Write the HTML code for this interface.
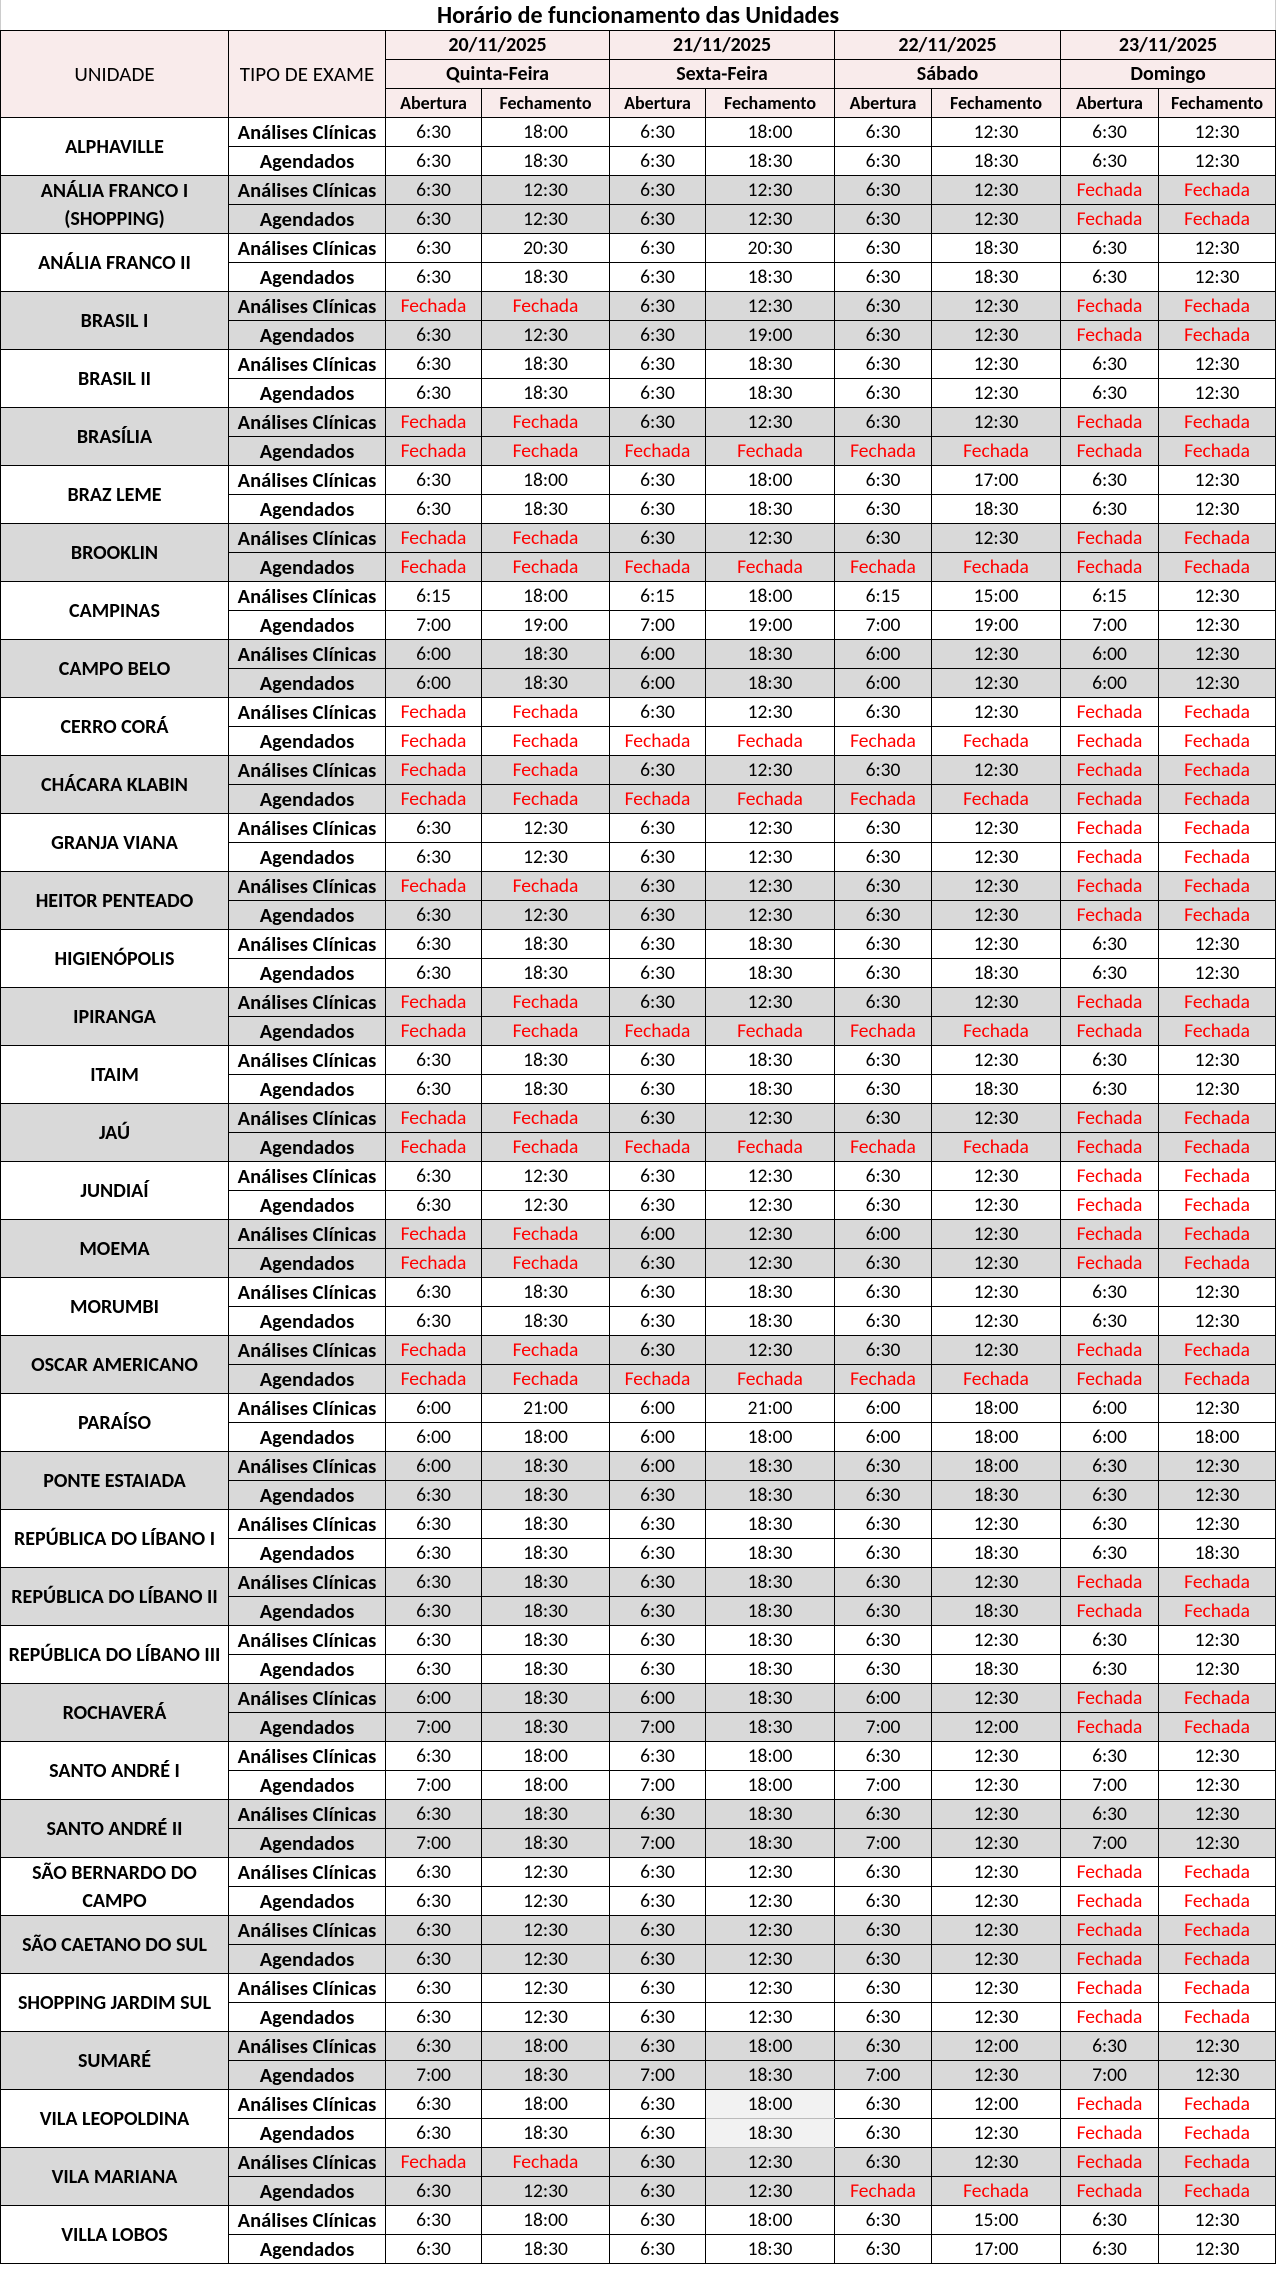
<!DOCTYPE html>
<html><head><meta charset="utf-8"><style>
html,body{margin:0;padding:0;background:#fff;}
body{width:1276px;height:2276px;overflow:hidden;font-family:"Calibri","Carlito","Liberation Sans",sans-serif;}
table{position:absolute;left:0;top:0;border-collapse:collapse;table-layout:fixed;width:1275px;}
td{border:1.5px solid #000;padding:0;height:28px;text-align:center;vertical-align:middle;font-size:19.5px;color:#000;white-space:nowrap;overflow:hidden;}
tr.t td{height:30px;font-size:24px;font-weight:bold;border-top:none;border-left:1px solid #ccc;border-right:1px solid #ccc;}
.h td{background:#f9ebeb;}
.h .b{font-weight:bold;font-size:20px;}
.h .s{font-weight:bold;font-size:18px;}
.h .n{font-size:21px;}
.u{font-weight:bold;font-size:20px;white-space:normal;line-height:28px;}
.k{font-weight:bold;font-size:20.5px;}
.g td{background:#d9d9d9;}
.r{color:#ff0000;}
.l{background:#f2f2f2 !important;border-top-color:#bbb;border-bottom-color:#bbb;}
</style></head><body>
<table>
<colgroup><col style="width:228px"><col style="width:157px"><col style="width:96px"><col style="width:128px"><col style="width:96px"><col style="width:129px"><col style="width:97px"><col style="width:129px"><col style="width:98px"><col style="width:117px"></colgroup>
<tr class="t"><td colspan="10">Horário de funcionamento das Unidades</td></tr>
<tr class="h"><td rowspan="3" class="n">UNIDADE</td><td rowspan="3" class="n">TIPO DE EXAME</td><td colspan="2" class="b">20/11/2025</td><td colspan="2" class="b">21/11/2025</td><td colspan="2" class="b">22/11/2025</td><td colspan="2" class="b">23/11/2025</td></tr>
<tr class="h"><td colspan="2" class="b">Quinta-Feira</td><td colspan="2" class="b">Sexta-Feira</td><td colspan="2" class="b">Sábado</td><td colspan="2" class="b">Domingo</td></tr>
<tr class="h"><td class="s">Abertura</td><td class="s">Fechamento</td><td class="s">Abertura</td><td class="s">Fechamento</td><td class="s">Abertura</td><td class="s">Fechamento</td><td class="s">Abertura</td><td class="s">Fechamento</td></tr>
<tbody id="b"></tbody>
</table>
<script>
var F='F';
var D=[
["ALPHAVILLE",["6:30","18:00","6:30","18:00","6:30","12:30","6:30","12:30"],["6:30","18:30","6:30","18:30","6:30","18:30","6:30","12:30"]],
["ANÁLIA FRANCO I<br>(SHOPPING)",["6:30","12:30","6:30","12:30","6:30","12:30",F,F],["6:30","12:30","6:30","12:30","6:30","12:30",F,F]],
["ANÁLIA FRANCO II",["6:30","20:30","6:30","20:30","6:30","18:30","6:30","12:30"],["6:30","18:30","6:30","18:30","6:30","18:30","6:30","12:30"]],
["BRASIL I",[F,F,"6:30","12:30","6:30","12:30",F,F],["6:30","12:30","6:30","19:00","6:30","12:30",F,F]],
["BRASIL II",["6:30","18:30","6:30","18:30","6:30","12:30","6:30","12:30"],["6:30","18:30","6:30","18:30","6:30","12:30","6:30","12:30"]],
["BRASÍLIA",[F,F,"6:30","12:30","6:30","12:30",F,F],[F,F,F,F,F,F,F,F]],
["BRAZ LEME",["6:30","18:00","6:30","18:00","6:30","17:00","6:30","12:30"],["6:30","18:30","6:30","18:30","6:30","18:30","6:30","12:30"]],
["BROOKLIN",[F,F,"6:30","12:30","6:30","12:30",F,F],[F,F,F,F,F,F,F,F]],
["CAMPINAS",["6:15","18:00","6:15","18:00","6:15","15:00","6:15","12:30"],["7:00","19:00","7:00","19:00","7:00","19:00","7:00","12:30"]],
["CAMPO BELO",["6:00","18:30","6:00","18:30","6:00","12:30","6:00","12:30"],["6:00","18:30","6:00","18:30","6:00","12:30","6:00","12:30"]],
["CERRO CORÁ",[F,F,"6:30","12:30","6:30","12:30",F,F],[F,F,F,F,F,F,F,F]],
["CHÁCARA KLABIN",[F,F,"6:30","12:30","6:30","12:30",F,F],[F,F,F,F,F,F,F,F]],
["GRANJA VIANA",["6:30","12:30","6:30","12:30","6:30","12:30",F,F],["6:30","12:30","6:30","12:30","6:30","12:30",F,F]],
["HEITOR PENTEADO",[F,F,"6:30","12:30","6:30","12:30",F,F],["6:30","12:30","6:30","12:30","6:30","12:30",F,F]],
["HIGIENÓPOLIS",["6:30","18:30","6:30","18:30","6:30","12:30","6:30","12:30"],["6:30","18:30","6:30","18:30","6:30","18:30","6:30","12:30"]],
["IPIRANGA",[F,F,"6:30","12:30","6:30","12:30",F,F],[F,F,F,F,F,F,F,F]],
["ITAIM",["6:30","18:30","6:30","18:30","6:30","12:30","6:30","12:30"],["6:30","18:30","6:30","18:30","6:30","18:30","6:30","12:30"]],
["JAÚ",[F,F,"6:30","12:30","6:30","12:30",F,F],[F,F,F,F,F,F,F,F]],
["JUNDIAÍ",["6:30","12:30","6:30","12:30","6:30","12:30",F,F],["6:30","12:30","6:30","12:30","6:30","12:30",F,F]],
["MOEMA",[F,F,"6:00","12:30","6:00","12:30",F,F],[F,F,"6:30","12:30","6:30","12:30",F,F]],
["MORUMBI",["6:30","18:30","6:30","18:30","6:30","12:30","6:30","12:30"],["6:30","18:30","6:30","18:30","6:30","12:30","6:30","12:30"]],
["OSCAR AMERICANO",[F,F,"6:30","12:30","6:30","12:30",F,F],[F,F,F,F,F,F,F,F]],
["PARAÍSO",["6:00","21:00","6:00","21:00","6:00","18:00","6:00","12:30"],["6:00","18:00","6:00","18:00","6:00","18:00","6:00","18:00"]],
["PONTE ESTAIADA",["6:00","18:30","6:00","18:30","6:30","18:00","6:30","12:30"],["6:30","18:30","6:30","18:30","6:30","18:30","6:30","12:30"]],
["REPÚBLICA DO LÍBANO I",["6:30","18:30","6:30","18:30","6:30","12:30","6:30","12:30"],["6:30","18:30","6:30","18:30","6:30","18:30","6:30","18:30"]],
["REPÚBLICA DO LÍBANO II",["6:30","18:30","6:30","18:30","6:30","12:30",F,F],["6:30","18:30","6:30","18:30","6:30","18:30",F,F]],
["REPÚBLICA DO LÍBANO III",["6:30","18:30","6:30","18:30","6:30","12:30","6:30","12:30"],["6:30","18:30","6:30","18:30","6:30","18:30","6:30","12:30"]],
["ROCHAVERÁ",["6:00","18:30","6:00","18:30","6:00","12:30",F,F],["7:00","18:30","7:00","18:30","7:00","12:00",F,F]],
["SANTO ANDRÉ I",["6:30","18:00","6:30","18:00","6:30","12:30","6:30","12:30"],["7:00","18:00","7:00","18:00","7:00","12:30","7:00","12:30"]],
["SANTO ANDRÉ II",["6:30","18:30","6:30","18:30","6:30","12:30","6:30","12:30"],["7:00","18:30","7:00","18:30","7:00","12:30","7:00","12:30"]],
["SÃO BERNARDO DO<br>CAMPO",["6:30","12:30","6:30","12:30","6:30","12:30",F,F],["6:30","12:30","6:30","12:30","6:30","12:30",F,F]],
["SÃO CAETANO DO SUL",["6:30","12:30","6:30","12:30","6:30","12:30",F,F],["6:30","12:30","6:30","12:30","6:30","12:30",F,F]],
["SHOPPING JARDIM SUL",["6:30","12:30","6:30","12:30","6:30","12:30",F,F],["6:30","12:30","6:30","12:30","6:30","12:30",F,F]],
["SUMARÉ",["6:30","18:00","6:30","18:00","6:30","12:00","6:30","12:30"],["7:00","18:30","7:00","18:30","7:00","12:30","7:00","12:30"]],
["VILA LEOPOLDINA",["6:30","18:00","6:30","18:00","6:30","12:00",F,F],["6:30","18:30","6:30","18:30","6:30","12:30",F,F]],
["VILA MARIANA",[F,F,"6:30","12:30","6:30","12:30",F,F],["6:30","12:30","6:30","12:30",F,F,F,F]],
["VILLA LOBOS",["6:30","18:00","6:30","18:00","6:30","15:00","6:30","12:30"],["6:30","18:30","6:30","18:30","6:30","17:00","6:30","12:30"]]
];
var h='';
D.forEach(function(u,i){
  var g=i%2?' class="g"':'';
  function cells(a){return a.map(function(v,j){var c=[];if(v==F)c.push('r');if(i==34&&j==3)c.push('l');return '<td'+(c.length?' class="'+c.join(' ')+'"':'')+'>'+(v==F?'Fechada':v)+'</td>';}).join('');}
  h+='<tr'+g+'><td rowspan="2" class="u">'+u[0]+'</td><td class="k">Análises Clínicas</td>'+cells(u[1])+'</tr>';
  h+='<tr'+g+'><td class="k">Agendados</td>'+cells(u[2])+'</tr>';
});
document.getElementById('b').innerHTML=h;
</script>
</body></html>
